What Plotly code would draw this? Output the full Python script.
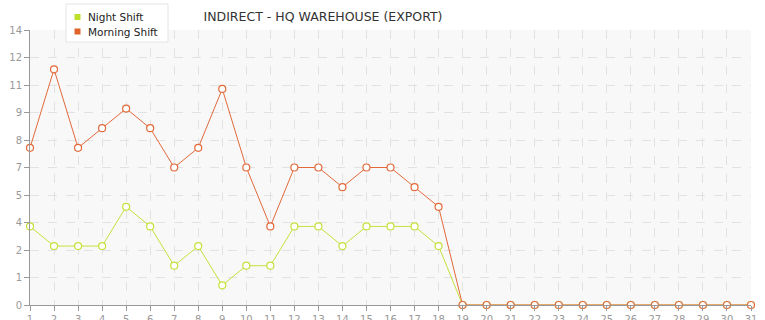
import plotly.graph_objects as go
import math

days = list(range(1, 32))
night_shift = [4, 3, 3, 3, 5, 4, 2, 3, 1, 2, 2, 4, 4, 3, 4, 4, 4, 3] + [0] * 13
morning_shift = [8, 12, 8, 9, 10, 9, 7, 8, 11, 7, 4, 7, 7, 6, 7, 7, 6, 5] + [0] * 13
series_names = ["Night Shift", "Morning Shift"]
y_tickvals = [i * 1.4 for i in range(11)]
y_ticktext = [str(int(math.floor(v + 1e-9))) for v in y_tickvals]

green = "#c6e03c"
orange = "#e2693a"
legend_cols = ["#bde02e", "#e0642a"]

L, R, T, B = 30, 14, 30, 15
W, H = 765, 320
pw, ph = W - L - R, H - T - B

def px_x(p):
    return (p - L) / pw

def px_y(p):
    return (H - B - p) / ph

fig = go.Figure()
for name, vals, col in [(series_names[0], night_shift, green), (series_names[1], morning_shift, orange)]:
    fig.add_trace(go.Scatter(
        x=days, y=vals, mode="lines+markers", name=name, showlegend=False,
        line=dict(color=col, width=1),
        marker=dict(symbol="circle", size=7, color="white", line=dict(color=col, width=1.2)),
        cliponaxis=False,
    ))

# custom legend box
shapes = [dict(type="rect", xref="paper", yref="paper", layer="above",
               x0=px_x(66), x1=px_x(168), y0=px_y(42), y1=px_y(4),
               fillcolor="white", line=dict(color="#e4e4e4", width=1))]
annotations = []
for i, (nm, c) in enumerate(zip(series_names, legend_cols)):
    cy = 17 + i * 14.5
    shapes.append(dict(type="rect", xref="paper", yref="paper", layer="above",
                       x0=px_x(74.5), x1=px_x(80.5), y0=px_y(cy + 3), y1=px_y(cy - 3),
                       fillcolor=c, line=dict(width=0)))
    annotations.append(dict(text=nm, xref="paper", yref="paper", x=px_x(86), y=px_y(cy),
                            xanchor="left", yanchor="middle", showarrow=False,
                            font=dict(family="DejaVu Sans", size=10.5, color="#222222")))

fig.update_layout(
    width=W, height=H,
    margin=dict(l=L, r=R, t=T, b=B),
    paper_bgcolor="white",
    plot_bgcolor="#f8f8f8",
    showlegend=False,
    shapes=shapes,
    annotations=annotations,
    font=dict(family="DejaVu Sans", size=10, color="#999999"),
    title=dict(text="INDIRECT - HQ WAREHOUSE (EXPORT)", x=323 / W, xanchor="center",
               y=1 - 17 / H, yanchor="middle", xref="paper", yref="container",
               font=dict(family="DejaVu Sans", size=12.5, color="#333333")),
    xaxis=dict(range=[1, 31], tickmode="array", tickvals=days, ticktext=[str(d) for d in days],
               showgrid=True, gridcolor="#e2e2e2", griddash="dash", gridwidth=1,
               showline=True, linecolor="#999999", linewidth=1, automargin=False,
               ticks="outside", ticklen=5, tickcolor="#999999", zeroline=False,
               tickfont=dict(size=10, color="#999999")),
    yaxis=dict(range=[0, 14], tickmode="array", tickvals=y_tickvals, ticktext=y_ticktext,
               showgrid=True, gridcolor="#e2e2e2", griddash="dash", gridwidth=1,
               showline=True, linecolor="#999999", linewidth=1, automargin=False,
               ticks="outside", ticklen=5, tickcolor="#999999", zeroline=False,
               tickfont=dict(size=10, color="#999999")),
)
fig.update_layout(title_x=323 / W, title_xref="container")

fig.write_html("out.html")
